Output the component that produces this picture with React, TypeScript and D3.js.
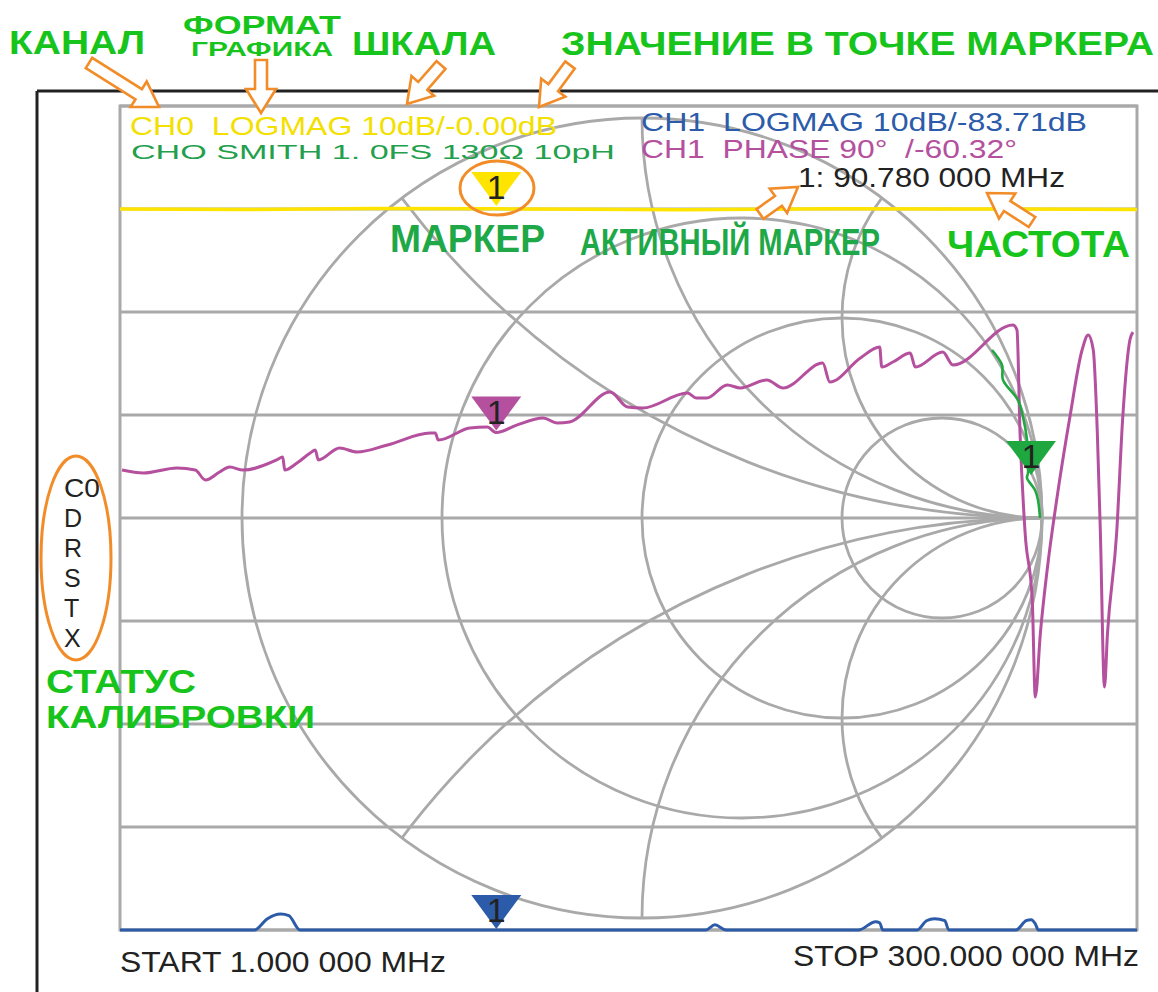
import * as d3 from "d3";
import { useEffect } from "react";

// sweep has 101 points, x is the point index
const markerIndex = 37;

// CH0 LOGMAG (dB), a flat line near 0
const ch0LogMag: [number, number][] = [
  [0, 0], [12, -0.05], [25, 0.05], [40, 0], [55, -0.08], [70, 0.03], [85, 0], [100, -0.04],
];

// CH1 LOGMAG (dB), mostly below the bottom of the screen
const ch1LogMag: [number, number][] = [
  [0, -80], [12.6, -72], [13.2, -70], [14.5, -68.9], [15.8, -68.45], [16.6, -68.6], [17.7, -70], [18.3, -72],
  [37, -83.71], [57, -72], [57.6, -70], [58.5, -69.5], [59.6, -70], [60.2, -72],
  [72, -72], [72.6, -70], [74.3, -69.2], [74.7, -69.3], [75.0, -70], [75.5, -72],
  [77.9, -72], [78.4, -70], [79.3, -69.1], [80.1, -68.9], [81.1, -69.1], [81.5, -70], [82, -72],
  [87.6, -72], [88.1, -70], [89.1, -69.1], [89.6, -69.0], [90.0, -69.4], [90.3, -70], [90.8, -72], [100, -80],
];

// CH1 PHASE (degrees)
const ch1Phase: [number, number][] = [
  [0.2, -93.1], [2.3, -95.7], [5.6, -91.3], [7.4, -93.1], [8.4, -101.8], [9.8, -94.8], [10.8, -90.5],
  [12.1, -93.1], [15.4, -84.3], [16.0, -81.7], [16.2, -93.1], [17.4, -87], [18.7, -78.2], [19.2, -75.6],
  [19.5, -84.3], [21.6, -73.8], [23.3, -77.4], [26.3, -71.2], [30.5, -60.8], [31.0, -60.8], [31.3, -66.9],
  [34.4, -56.4], [36.1, -55.5], [37, -60.32], [39.0, -53.8], [41.6, -47.6], [43.0, -52], [44.2, -51.1],
  [48.2, -24.9], [49.9, -38], [51.4, -38.9], [55.8, -25.8], [56.7, -30.2], [57.7, -30.2], [59.7, -18.8],
  [61.0, -21.4], [63.6, -14.4], [65.2, -21.4], [69.1, 0.4], [69.8, -16.2], [72.8, 4.8], [74.7, 14.4],
  [74.9, -3.1], [76.0, 1.3], [77.7, 9.1], [78.2, -3.1], [80.9, 10], [81.9, -1.3], [87.8, 33.6],
  [88.2, 29.2], [88.5, -60.8], [89.0, -148.1], [89.7, -206.7], [90.0, -291.4], [90.5, -235.5],
  [91.2, -177.8], [92.1, -119.3], [93.4, -46.8], [94.6, 11.8], [95.2, 24.9], [95.7, 11.8], [96.1, -60.8],
  [96.4, -148.1], [96.8, -282.7], [97.1, -235.5], [98.0, -148.1], [98.6, -46.8], [99.3, 20.5], [99.6, 27.5],
];

// CH0 SMITH, reflection coefficient (re, im)
const ch0Smith: [number, number][] = [
  [0.875, 0.42], [0.9, 0.3825], [0.9025, 0.345], [0.94, 0.295], [0.9525, 0.2525], [0.9625, 0.195],
  [0.965, 0.1125], [0.9625, 0.1], [0.9825, 0.07], [0.99, 0.045], [0.995, 0],
];
const smithMarkerPoint = 6;

// smith grid: constant resistance and reactance values
const smithR = [1 / 3, 1, 3];
const smithX = [0.5, 1, 2, -0.5, -1, -2];

const calStatus = ["C0", "D", "R", "S", "T", "X"];

const W = 1158;
const H = 992;
const plot = { left: 120, right: 1137, top: 106, bottom: 930 };
const smith = { cx: 642, R: 400 };

const col = {
  grid: "#a9a9a9",
  yellow: "#ffe400",
  yellowText: "#f3df00",
  blue: "#2c5ba9",
  magenta: "#b4509e",
  green: "#1fa83f",
  greenText: "#22a04c",
  note: "#17c41c",
  noteDark: "#1ea847",
  orange: "#f28c28",
  ink: "#222222",
};

const arrows = [
  { from: [89, 63], to: [159, 107] },
  { from: [261, 60], to: [261, 113] },
  { from: [441, 65], to: [407, 104] },
  { from: [570, 65], to: [539, 107] },
  { from: [760, 214], to: [798, 187] },
  { from: [1032, 222], to: [987, 193] },
];

function arrowPath(from: number[], to: number[]) {
  const dx = to[0] - from[0];
  const dy = to[1] - from[1];
  const len = Math.hypot(dx, dy);
  const ux = dx / len, uy = dy / len;
  const nx = -uy, ny = ux;
  const sw = 6, hw = 15, hl = 24;
  const nk = [to[0] - ux * hl, to[1] - uy * hl];
  const p = (x: number, y: number) => `${x.toFixed(1)},${y.toFixed(1)}`;
  return "M" + [
    p(from[0] + nx * sw, from[1] + ny * sw),
    p(nk[0] + nx * sw, nk[1] + ny * sw),
    p(nk[0] + nx * hw, nk[1] + ny * hw),
    p(to[0], to[1]),
    p(nk[0] - nx * hw, nk[1] - ny * hw),
    p(nk[0] - nx * sw, nk[1] - ny * sw),
    p(from[0] - nx * sw, from[1] - ny * sw),
  ].join("L") + "Z";
}

function Marker({ x, y, color }: { x: number; y: number; color: string }) {
  return (
    <g>
      <path d={`M${x - 25},${y - 34}L${x + 25},${y - 34}L${x},${y}Z`} fill={color} />
      <text x={x} y={y - 7} textAnchor="middle" fontSize={34} fill={col.ink}
        fontFamily="Liberation Sans, Arial, sans-serif">1</text>
    </g>
  );
}

export default function App() {
  useEffect(() => {
    document.body.style.margin = "0";
  }, []);

  const x = d3.scaleLinear().domain([0, 100]).range([plot.left, plot.right]);
  const yDb = d3.scaleLinear().domain([10, -70]).range([plot.top, plot.bottom]);
  const yPhase = d3.scaleLinear().domain([225, -495]).range([plot.top, plot.bottom]);
  const cy = yDb(-30);
  const gx = d3.scaleLinear().domain([-1, 1]).range([smith.cx - smith.R, smith.cx + smith.R]);
  const gy = d3.scaleLinear().domain([-1, 1]).range([cy + smith.R, cy - smith.R]);
  const k = smith.R;

  const clampY = (v: number) => Math.min(plot.bottom, Math.max(plot.top, v));

  const dbLine = d3.line<[number, number]>()
    .x(d => x(d[0]))
    .y(d => clampY(yDb(d[1])))
    .curve(d3.curveMonotoneX);
  const phaseLine = d3.line<[number, number]>()
    .x(d => x(d[0]))
    .y(d => clampY(yPhase(d[1])))
    .curve(d3.curveMonotoneX);
  const smithLine = d3.line<[number, number]>()
    .x(d => gx(d[0]))
    .y(d => gy(d[1]))
    .curve(d3.curveCatmullRom);

  const gridTicks = yDb.ticks(8);
  const phaseAtMarker = ch1Phase.find(d => d[0] === markerIndex)![1];
  const blueAtMarker = ch1LogMag.find(d => d[0] === markerIndex)![1];
  const gm = ch0Smith[smithMarkerPoint];

  const sans = "Liberation Sans, Arial, sans-serif";
  const narrow = "Liberation Sans Narrow, Liberation Sans, Arial, sans-serif";
  const pre = { whiteSpace: "pre" as const };

  return (
    <svg width={W} height={H} style={{ display: "block", background: "#fff" }}>
      <defs>
        <clipPath id="smithClip">
          <circle cx={gx(0)} cy={gy(0)} r={k} />
        </clipPath>
      </defs>

      {/* screen frame */}
      <line x1={37} y1={91} x2={W} y2={91} stroke={col.ink} strokeWidth={3} />
      <line x1={37} y1={91} x2={37} y2={H} stroke={col.ink} strokeWidth={3} />

      {/* grid */}
      <rect x={plot.left} y={plot.top} width={plot.right - plot.left} height={plot.bottom - plot.top}
        fill="none" stroke={col.grid} strokeWidth={3} />
      {gridTicks.map(t => (
        <line key={t} x1={plot.left} x2={plot.right} y1={yDb(t)} y2={yDb(t)} stroke={col.grid} strokeWidth={3} />
      ))}

      {/* smith chart */}
      <g fill="none" stroke={col.grid} strokeWidth={2.8}>
        <circle cx={gx(0)} cy={gy(0)} r={k} />
        {smithR.map(r => (
          <circle key={r} cx={gx(r / (1 + r))} cy={gy(0)} r={k / (1 + r)} />
        ))}
        <g clipPath="url(#smithClip)">
          {smithX.map(v => (
            <circle key={v} cx={gx(1)} cy={gy(1 / v)} r={k / Math.abs(v)} />
          ))}
        </g>
      </g>

      {/* traces */}
      <path d={dbLine(ch0LogMag)!} fill="none" stroke={col.yellow} strokeWidth={3.5} />
      <path d={dbLine(ch1LogMag)!} fill="none" stroke={col.blue} strokeWidth={3} />
      <path d={phaseLine(ch1Phase)!} fill="none" stroke={col.magenta} strokeWidth={3} />
      <path d={smithLine(ch0Smith)!} fill="none" stroke={col.green} strokeWidth={2.6} />

      {/* markers */}
      <Marker x={x(markerIndex)} y={yDb(0) - 3} color={col.yellow} />
      <Marker x={x(markerIndex)} y={yPhase(phaseAtMarker) - 2} color={col.magenta} />
      <Marker x={x(markerIndex)} y={clampY(yDb(blueAtMarker)) - 1} color={col.blue} />
      <Marker x={gx(gm[0]) + 3} y={gy(gm[1]) + 2} color={col.green} />

      {/* screen texts */}
      <text x={130} y={135} fontSize={26} fill={col.yellowText} fontFamily={sans} style={pre}
        textLength={427} lengthAdjust="spacingAndGlyphs">CH0  LOGMAG 10dB/-0.00dB</text>
      <text x={131} y={159} fontSize={21} fill={col.greenText} fontFamily={narrow}
        textLength={484} lengthAdjust="spacingAndGlyphs">CHO SMITH 1. 0FS 130Ω 10pH</text>
      <text x={641} y={131} fontSize={26} fill={col.blue} fontFamily={sans} style={pre}
        textLength={446} lengthAdjust="spacingAndGlyphs">CH1  LOGMAG 10dB/-83.71dB</text>
      <text x={641} y={158} fontSize={26} fill={col.magenta} fontFamily={sans} style={pre}
        textLength={376} lengthAdjust="spacingAndGlyphs">CH1  PHASE 90°  /-60.32°</text>
      <text x={798} y={187} fontSize={27} fill={col.ink} fontFamily={sans}
        textLength={267} lengthAdjust="spacingAndGlyphs">1: 90.780 000 MHz</text>
      <text x={120} y={972} fontSize={29} fill={col.ink} fontFamily={sans}
        textLength={326} lengthAdjust="spacingAndGlyphs">START 1.000 000 MHz</text>
      <text x={793} y={966} fontSize={29} fill={col.ink} fontFamily={sans}
        textLength={346} lengthAdjust="spacingAndGlyphs">STOP 300.000 000 MHz</text>
      {calStatus.map((s, i) => (
        <text key={s} x={64} y={497 + i * 30} fontSize={25} fill={col.ink} fontFamily={narrow}
          textLength={s.length > 1 ? 36 : undefined} lengthAdjust="spacingAndGlyphs">{s}</text>
      ))}

      {/* annotations */}
      <g fill="none" stroke={col.orange} strokeWidth={3}>
        <ellipse cx={497} cy={188} rx={37} ry={27} />
        <ellipse cx={76} cy={558} rx={35} ry={102} />
      </g>
      {arrows.map((a, i) => (
        <path key={i} d={arrowPath(a.from, a.to)} fill="#fff" stroke={col.orange} strokeWidth={2.6}
          strokeLinejoin="miter" />
      ))}

      <g fontFamily={sans} fontWeight="bold" fill={col.note}>
        <text x={9} y={54} fontSize={33} textLength={136} lengthAdjust="spacingAndGlyphs">КАНАЛ</text>
        <text x={183} y={34} fontSize={25} textLength={158} lengthAdjust="spacingAndGlyphs">ФОРМАТ</text>
        <text x={191} y={56} fontSize={20} textLength={142} lengthAdjust="spacingAndGlyphs">ГРАФИКА</text>
        <text x={352} y={55} fontSize={33} textLength={144} lengthAdjust="spacingAndGlyphs">ШКАЛА</text>
        <text x={561} y={55} fontSize={33} textLength={593} lengthAdjust="spacingAndGlyphs">ЗНАЧЕНИЕ В ТОЧКЕ МАРКЕРА</text>
        <text x={947} y={257} fontSize={37} textLength={183} lengthAdjust="spacingAndGlyphs">ЧАСТОТА</text>
        <text x={46} y={693} fontSize={34} textLength={150} lengthAdjust="spacingAndGlyphs">СТАТУС</text>
        <text x={46} y={728} fontSize={32} textLength={269} lengthAdjust="spacingAndGlyphs">КАЛИБРОВКИ</text>
        <text x={390} y={252} fontSize={39} fill={col.noteDark} textLength={155} lengthAdjust="spacingAndGlyphs">МАРКЕР</text>
        <text x={580} y={255} fontSize={37} fill={col.noteDark} textLength={300} lengthAdjust="spacingAndGlyphs">АКТИВНЫЙ МАРКЕР</text>
      </g>
    </svg>
  );
}
